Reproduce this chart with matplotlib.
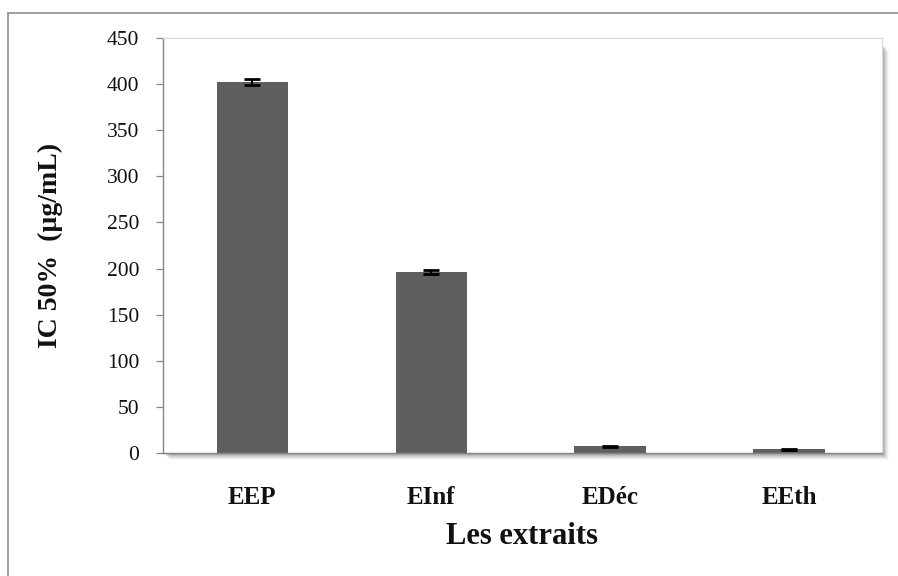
import matplotlib
matplotlib.use("Agg")
import matplotlib.pyplot as plt
from matplotlib.patches import Rectangle

# Extracts and their IC50 values (µg/mL) with standard deviations
extraits = ["EEP", "EInf", "EDéc", "EEth"]
ic50 = [402.5, 196.0, 7.5, 3.8]
ecart_type = [3.0, 2.0, 0.5, 0.3]
yticks = [0, 50, 100, 150, 200, 250, 300, 350, 400, 450]

W, H = 898, 576
fig = plt.figure(figsize=(W / 100, H / 100), dpi=100)
fig.patch.set_facecolor("white")

serif = ["Liberation Serif", "DejaVu Serif"]

# outer frame of the chart (left and top edges visible)
fig.add_artist(Rectangle((8 / W, -0.05), 1.2, 1 - 13 / H + 0.05,
                         transform=fig.transFigure, fill=False,
                         edgecolor="#8c8c8c", linewidth=1.2, zorder=0))

left, right, bottom, top = 163 / W, 882 / W, 1 - 453 / H, 1 - 38 / H

# soft drop shadow behind the plot area
for i, a in enumerate([0.10, 0.09, 0.08, 0.07, 0.05, 0.04, 0.03]):
    off = (i + 1)
    fig.add_artist(Rectangle((left + off / W, bottom - off / H),
                             right - left, top - bottom - 6 / H,
                             transform=fig.transFigure, facecolor="black",
                             edgecolor="none", alpha=a, zorder=0.5))

ax = fig.add_axes([left, bottom, right - left, top - bottom])
ax.set_facecolor("white")
ax.set_zorder(1)

x = list(range(len(extraits)))
ax.bar(x, ic50, width=0.4, color="#5f5f5f", zorder=2)
ax.errorbar(x, ic50, yerr=ecart_type, fmt="none", ecolor="black",
            elinewidth=1.5, capsize=6, capthick=2, zorder=3)

ax.set_xlim(-0.5, 3.52)
ax.set_ylim(0, 450)
ax.set_yticks(yticks)
ax.set_yticklabels([str(v) for v in yticks], fontfamily=serif,
                   fontsize=15.5, color="#111111")
ax.set_xticks(x)
ax.set_xticklabels(extraits, fontfamily=serif, fontsize=18,
                   fontweight="bold", color="#111111")

ax.tick_params(axis="y", direction="out", length=5, width=0.9,
               color="#868686", pad=12)
ax.tick_params(axis="x", length=0, pad=24)

for side in ["left", "bottom"]:
    ax.spines[side].set_color("#868686")
    ax.spines[side].set_linewidth(1.0)
for side in ["top", "right"]:
    ax.spines[side].set_color("#dcdcdc")
    ax.spines[side].set_linewidth(1.0)

fig.text(50 / W, 1 - 245 / H, "IC 50%  (µg/mL)", rotation=90,
         ha="center", va="center", fontfamily=serif, fontsize=20,
         fontweight="bold", color="#111111")
fig.text((163 + 880) / 2 / W, 1 - 537 / H, "Les extraits",
         ha="center", va="center", fontfamily=serif, fontsize=22,
         fontweight="bold", color="#111111")

fig.savefig("out.png", dpi=100, facecolor="white")
